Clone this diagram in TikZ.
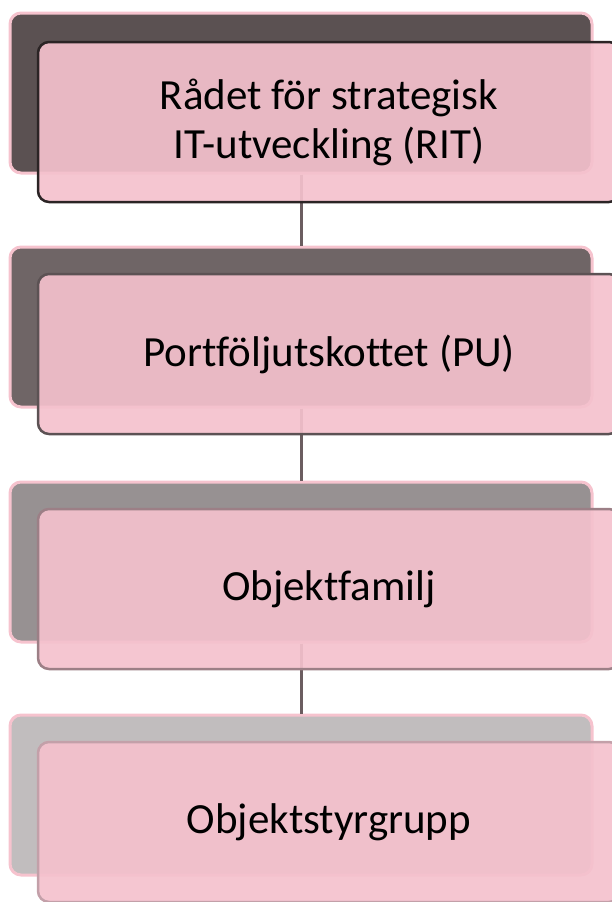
\documentclass[tikz,border=0pt]{standalone}
\usepackage{fontspec}
\setmainfont[Ligatures={NoCommon}]{Carlito}
\definecolor{pinkfill}{HTML}{F4C1CD}
\definecolor{pinkedge}{HTML}{F6C3CE}
\definecolor{backA}{HTML}{5B5152}
\definecolor{backB}{HTML}{6F6566}
\definecolor{backC}{HTML}{979192}
\definecolor{backD}{HTML}{C1BDBE}
\definecolor{edgeA}{HTML}{2B2425}
\definecolor{edgeB}{HTML}{5C5254}
\definecolor{edgeC}{HTML}{9C7F86}
\definecolor{edgeD}{HTML}{C3A0A9}
\definecolor{linkcol}{HTML}{6B5D60}
\tikzset{
  backbox/.style={rectangle, rounded corners=11pt, draw=pinkedge, line width=3pt,
    minimum width=582pt, minimum height=160pt, inner sep=0pt},
  frontbox/.style={rectangle, rounded corners=11pt, line width=2.5pt,
    fill=pinkfill, fill opacity=0.92, text opacity=1,
    minimum width=582pt, minimum height=160pt, inner sep=0pt,
    align=center, font=\fontsize{43}{49}\selectfont, text=black},
  link/.style={draw=linkcol, line width=3pt}
}
\begin{document}
\begin{tikzpicture}[x=1pt,y=-1pt]
\useasboundingbox (0,0) rectangle (611,902);
% back boxes
\node[backbox, fill=backA] (b1) at (301,93) {};
\node[backbox, fill=backB] (b2) at (301,327) {};
\node[backbox, fill=backC] (b3) at (301,562) {};
\node[backbox, fill=backD] (b4) at (301,795) {};
% connectors
\draw[link] (b1.south) -- (b2.north);
\draw[link] (b2.south) -- (b3.north);
\draw[link] (b3.south) -- (b4.north);
% front boxes
\node[frontbox, draw=edgeA] (f1) at (329,122) {Rådet för strategisk\\IT-utveckling (RIT)};
\node[frontbox, draw=edgeB] (f2) at (329,354) {Portföljutskottet (PU)};
\node[frontbox, draw=edgeC] (f3) at (329,589) {Objektfamilj};
\node[frontbox, draw=edgeD] (f4) at (329,822) {Objektstyrgrupp};
\end{tikzpicture}
\end{document}
